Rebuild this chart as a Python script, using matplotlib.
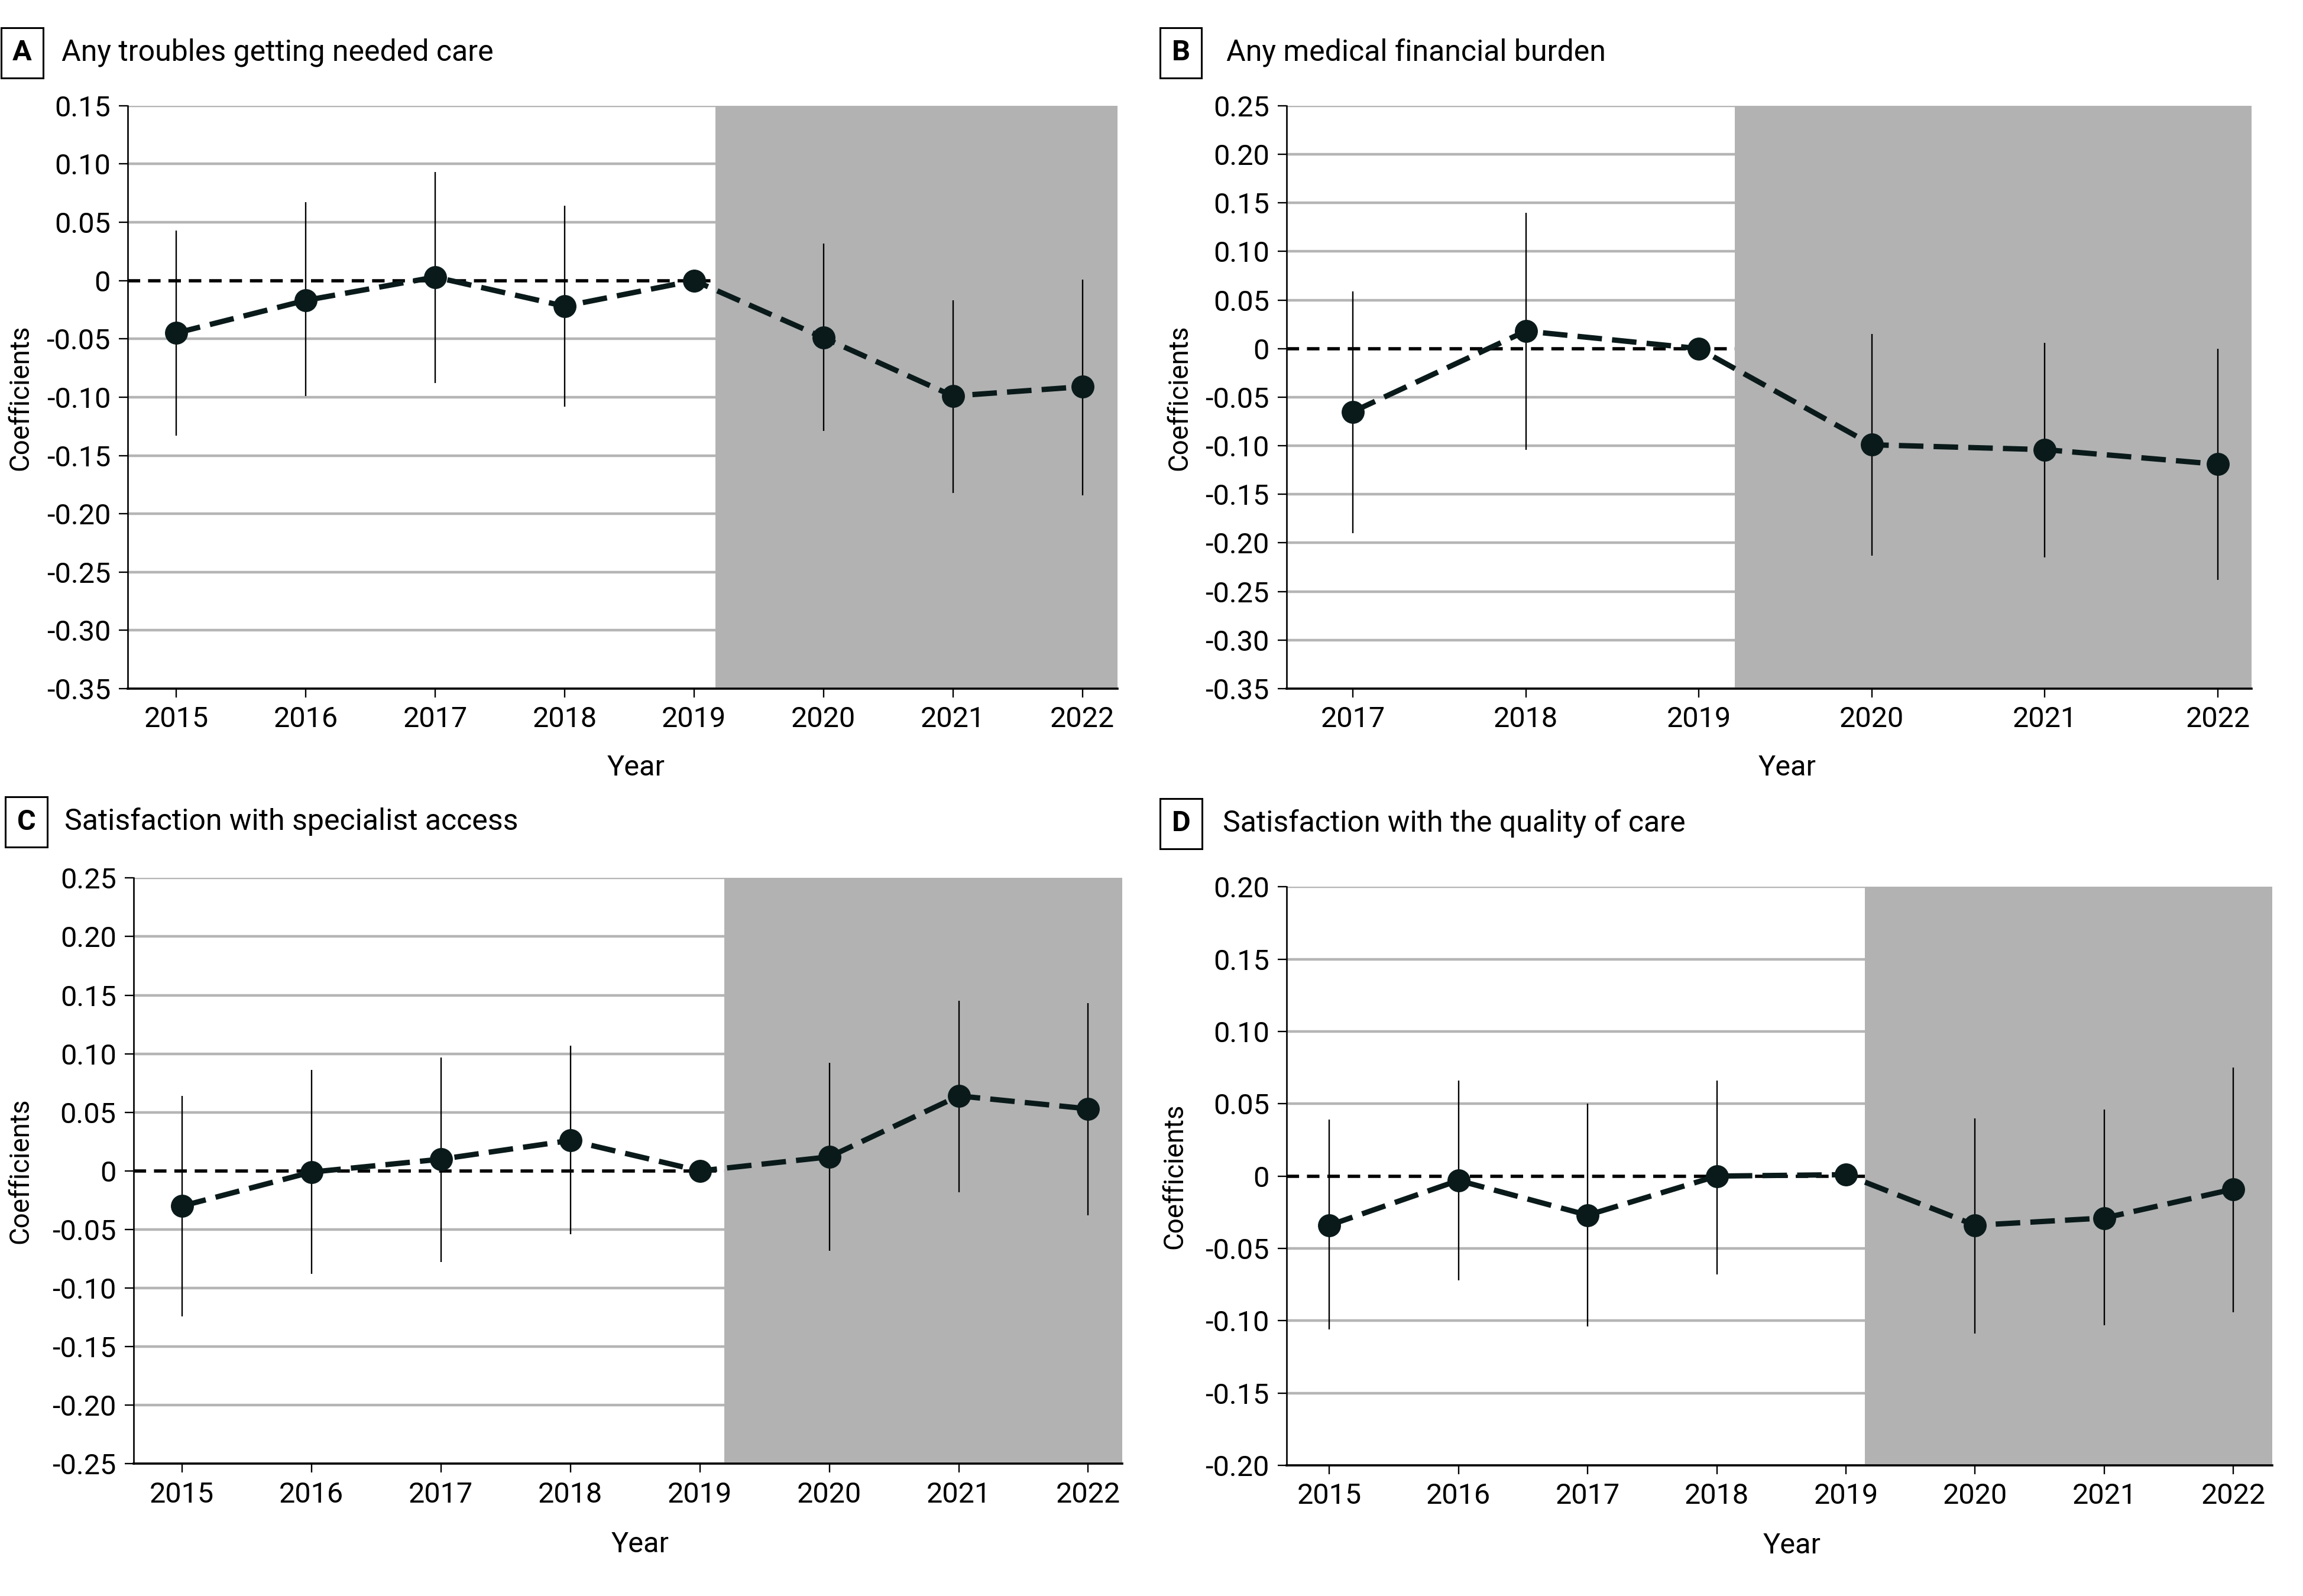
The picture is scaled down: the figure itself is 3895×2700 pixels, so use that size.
import matplotlib
matplotlib.use("Agg")
import matplotlib.pyplot as plt

plt.rcParams['font.family'] = ['Roboto', 'DejaVu Sans']

# A: Any troubles getting needed care
years_a = [2015, 2016, 2017, 2018, 2019, 2020, 2021, 2022]
coef_a = [-0.045, -0.017, 0.003, -0.022, 0.0, -0.049, -0.099, -0.091]
lo_a = [-0.133, -0.099, -0.088, -0.108, 0.0, -0.129, -0.182, -0.184]
hi_a = [0.043, 0.067, 0.093, 0.064, 0.0, 0.032, -0.017, 0.001]

# B: Any medical financial burden
years_b = [2017, 2018, 2019, 2020, 2021, 2022]
coef_b = [-0.065, 0.018, 0.0, -0.099, -0.104, -0.119]
lo_b = [-0.190, -0.104, 0.0, -0.213, -0.215, -0.238]
hi_b = [0.059, 0.140, 0.0, 0.015, 0.006, 0.0]

# C: Satisfaction with specialist access
years_c = [2015, 2016, 2017, 2018, 2019, 2020, 2021, 2022]
coef_c = [-0.030, -0.001, 0.010, 0.026, 0.0, 0.012, 0.064, 0.053]
lo_c = [-0.124, -0.088, -0.078, -0.054, 0.0, -0.068, -0.018, -0.038]
hi_c = [0.064, 0.086, 0.097, 0.107, 0.0, 0.092, 0.145, 0.143]

# D: Satisfaction with the quality of care
years_d = [2015, 2016, 2017, 2018, 2019, 2020, 2021, 2022]
coef_d = [-0.034, -0.003, -0.027, 0.0, 0.001, -0.034, -0.029, -0.009]
lo_d = [-0.106, -0.072, -0.104, -0.068, 0.001, -0.109, -0.103, -0.094]
hi_d = [0.039, 0.066, 0.050, 0.066, 0.001, 0.040, 0.046, 0.075]

titles = ["Any troubles getting needed care", "Any medical financial burden",
          "Satisfaction with specialist access", "Satisfaction with the quality of care"]
letters = ["A", "B", "C", "D"]

FS = 35
dark = '#0a1a1a'
shade = '#b2b2b2'
gridc = '#b5b5b5'

fig = plt.figure(figsize=(38.95, 27), dpi=100)

panels = [
    # data, rect, xlim, shade start, ylim, yticks
    ((years_a, coef_a, lo_a, hi_a), [0.0555, 0.5685, 0.4298, 0.3653], (2014.626, 2022.272), 2019.164,
     (-0.35, 0.15), [0.15, 0.10, 0.05, 0, -0.05, -0.10, -0.15, -0.20, -0.25, -0.30, -0.35]),
    ((years_b, coef_b, lo_b, hi_b), [0.5587, 0.5685, 0.4190, 0.3653], (2016.618, 2022.195), 2019.207,
     (-0.35, 0.25), [0.25, 0.20, 0.15, 0.10, 0.05, 0, -0.05, -0.10, -0.15, -0.20, -0.25, -0.30, -0.35]),
    ((years_c, coef_c, lo_c, hi_c), [0.0580, 0.0828, 0.4292, 0.3671], (2014.626, 2022.261), 2019.187,
     (-0.25, 0.25), [0.25, 0.20, 0.15, 0.10, 0.05, 0, -0.05, -0.10, -0.15, -0.20, -0.25]),
    ((years_d, coef_d, lo_d, hi_d), [0.5587, 0.0819, 0.4279, 0.3624], (2014.67, 2022.30), 2019.148,
     (-0.20, 0.20), [0.20, 0.15, 0.10, 0.05, 0, -0.05, -0.10, -0.15, -0.20]),
]

title_pos = [(0.0096, 0.0268, 0.967), (0.5128, 0.5325, 0.967),
             (0.0115, 0.0281, 0.485), (0.5128, 0.5310, 0.484)]
ylab_pos = [(0.0089, 0.751), (0.512, 0.751), (0.0089, 0.2663), (0.510, 0.263)]
xlab_pos = [(0.2761, 0.5189), (0.776, 0.5189), (0.278, 0.0322), (0.778, 0.0313)]

for i, ((yrs, coef, lo, hi), rect, xl, s0, yl, yt) in enumerate(panels):
    ax = fig.add_axes(rect)
    ax.set_xlim(*xl)
    ax.set_ylim(*yl)
    for v in yt:
        if v != 0:
            ax.axhline(v, color=gridc, lw=3.2, zorder=0.5)
    ax.hlines(0, xl[0], xl[1], colors='black', lw=4, linestyles=(0, (3.8, 2.4)), zorder=1)
    ax.axvspan(s0, xl[1], color=shade, lw=0, zorder=2)
    ax.vlines(yrs, lo, hi, colors='black', lw=1.7, zorder=3)
    ax.plot(yrs, coef, color=dark, lw=6.5, linestyle=(0, (4.6, 1.9)), zorder=4)
    ax.plot(yrs, coef, 'o', color=dark, ms=27, zorder=5, linestyle='none')

    ax.set_xticks(yrs)
    ax.set_xticklabels([str(y) for y in yrs])
    ax.set_yticks(yt)
    ax.set_yticklabels(['0' if v == 0 else f'{v:.2f}' for v in yt])
    ax.tick_params(axis='both', direction='out', length=11, width=1.7, labelsize=FS, pad=10, colors='black')
    for side in ['top', 'right']:
        ax.spines[side].set_visible(False)
    ax.spines['left'].set_linewidth(1.9)
    ax.spines['bottom'].set_linewidth(2.6)

    bx, tx, ty = title_pos[i]
    fig.text(bx, ty, letters[i], fontsize=FS, fontweight='bold', ha='center', va='center',
             bbox=dict(boxstyle='square,pad=0.4', fc='white', ec='black', lw=2.2))
    fig.text(tx, ty, titles[i], fontsize=FS + 1, ha='left', va='center')
    fig.text(ylab_pos[i][0], ylab_pos[i][1], "Coefficients", fontsize=FS - 2, rotation=90,
             ha='center', va='center')
    fig.text(xlab_pos[i][0], xlab_pos[i][1], "Year", fontsize=FS, ha='center', va='center')

fig.savefig("out.png", dpi=100, facecolor='white')
